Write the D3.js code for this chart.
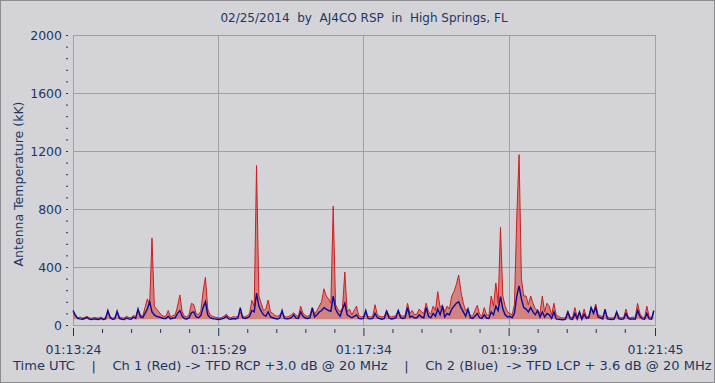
<!DOCTYPE html>
<html lang="en">
<head>
<meta charset="UTF-8">
<title>AJ4CO RSP 02/25/2014</title>
<script src="https://d3js.org/d3.v7.min.js"></script>
<style>
  html, body { margin: 0; padding: 0; background: #d4d4d8; }
  svg { display: block; }
  .txt { fill: #1c3664; font-family: "DejaVu Sans", sans-serif; }
  .tick line { stroke: #1c3664; }
</style>
</head>
<body>
<svg id="chart" width="715" height="383"></svg>
<script>
// time in seconds after 01:13:24 UTC, one sample every 2 s
const timeSec = d3.range(0, 501, 2);

// Ch 1 (red) antenna temperature, kK
const redVals = [
  85, 60, 50, 55, 48, 52, 60, 50, 46, 52,
  50, 47, 55, 45, 52, 95, 58, 48, 50, 90,
  55, 50, 48, 60, 52, 50, 65, 58, 105, 70,
  60, 120, 180, 140, 600, 130, 110, 90, 70, 60,
  60, 100, 55, 65, 70, 130, 207, 90, 60, 55,
  75, 150, 140, 80, 70, 95, 230, 330, 110, 70,
  60, 55, 50, 48, 52, 60, 75, 55, 50, 58,
  55, 60, 90, 60, 55, 65, 80, 170, 130, 1100,
  200, 150, 100, 110, 172, 90, 80, 65, 60, 70,
  85, 60, 55, 60, 70, 85, 65, 60, 130, 80,
  65, 60, 70, 120, 75, 100, 130, 160, 250, 200,
  180, 150, 820, 140, 110, 90, 120, 365, 90, 110,
  70, 100, 130, 65, 55, 60, 75, 60, 55, 60,
  140, 70, 60, 55, 60, 100, 65, 55, 60, 65,
  100, 65, 60, 70, 150, 80, 100, 70, 75, 110,
  90, 80, 150, 90, 75, 130, 100, 230, 120, 140,
  90, 130, 110, 200, 230, 280, 345, 230, 150, 100,
  110, 65, 60, 100, 135, 75, 60, 120, 70, 65,
  200, 130, 290, 150, 675, 200, 130, 90, 80, 70,
  140, 740, 1175, 320, 200, 200, 140, 200, 150, 110,
  100, 80, 200, 90, 150, 130, 70, 150, 65, 60,
  50, 48, 52, 95, 55, 50, 120, 55, 90, 50,
  110, 55, 60, 120, 90, 145, 70, 65, 55, 100,
  55, 50, 48, 52, 90, 55, 50, 52, 110, 55,
  50, 55, 52, 150, 80, 55, 50, 130, 55, 52, 85
];

// Ch 2 (blue) antenna temperature, kK
const blueVals = [
  100, 70, 45, 42, 40, 45, 52, 40, 38, 42,
  40, 38, 45, 38, 42, 100, 50, 40, 42, 95,
  45, 40, 38, 48, 42, 40, 55, 45, 110, 55,
  50, 80, 110, 160, 90, 70, 60, 55, 50, 45,
  45, 60, 42, 48, 50, 80, 100, 60, 45, 42,
  50, 85, 90, 55, 50, 65, 120, 160, 70, 50,
  45, 42, 40, 38, 42, 48, 60, 42, 40, 45,
  42, 48, 120, 50, 45, 50, 60, 100, 90, 220,
  130, 95, 70, 60, 90, 55, 50, 45, 42, 48,
  100, 45, 42, 45, 50, 70, 48, 45, 90, 60,
  48, 45, 50, 117, 55, 70, 90, 100, 120, 110,
  100, 95, 200, 110, 80, 60, 110, 150, 70, 60,
  50, 60, 70, 45, 42, 45, 100, 45, 42, 45,
  80, 50, 45, 40, 45, 95, 48, 42, 45, 50,
  100, 50, 45, 50, 120, 55, 60, 48, 50, 70,
  55, 50, 120, 60, 50, 80, 60, 110, 70, 130,
  55, 80, 70, 110, 130, 150, 160, 120, 90, 60,
  110, 50, 45, 60, 80, 50, 45, 70, 48, 45,
  90, 70, 130, 100, 195, 110, 70, 55, 60, 50,
  80, 200, 270, 180, 120, 110, 90, 120, 90, 70,
  100, 55, 90, 55, 80, 70, 45, 90, 42, 40,
  38, 36, 40, 90, 42, 38, 80, 42, 90, 40,
  75, 45, 50, 120, 80, 120, 55, 50, 42, 110,
  42, 40, 38, 42, 90, 42, 40, 42, 80, 45,
  40, 42, 40, 100, 60, 42, 40, 80, 42, 40, 100
];

const xTickSec = [0, 125, 250, 375, 501];
const xTickLabels = ["01:13:24", "01:15:29", "01:17:34", "01:19:39", "01:21:45"];
const yMajor = [0, 400, 800, 1200, 1600, 2000];

const svg = d3.select("#chart");
const W = 715, H = 383;
const pl = 73, pr = 655, pt = 35, pb = 325;

const x = d3.scaleLinear().domain([0, 501]).range([pl, pr]);
const y = d3.scaleLinear().domain([0, 2000]).range([pb, pt]);

// outer border
svg.append("rect").attr("x", 0.5).attr("y", 0.5).attr("width", W - 1).attr("height", H - 1)
  .attr("fill", "#d4d4d8").attr("stroke", "#8c8c90");

// grid
svg.append("g").selectAll("line").data(yMajor.slice(1, -1)).join("line")
  .attr("x1", pl).attr("x2", pr)
  .attr("y1", d => Math.round(y(d)) + 0.5).attr("y2", d => Math.round(y(d)) + 0.5)
  .attr("stroke", "#a0a0a4");
svg.append("g").selectAll("line").data(xTickSec.slice(1, -1)).join("line")
  .attr("x1", d => Math.round(x(d)) + 0.5).attr("x2", d => Math.round(x(d)) + 0.5)
  .attr("y1", pt).attr("y2", pb)
  .attr("stroke", "#a0a0a4");

// frame
svg.append("rect").attr("x", pl + 0.5).attr("y", pt + 0.5)
  .attr("width", pr - pl).attr("height", pb - pt)
  .attr("fill", "none").attr("stroke", "#a0a0a4");

// series: red gets a soft fill down to the noise floor, blue is a plain trace
const floor = 40;
const area = vals => d3.area()
  .x((d, i) => x(timeSec[i]))
  .y0(y(floor)).y1(d => y(d))(vals);
const line = vals => d3.line()
  .x((d, i) => x(timeSec[i]))
  .y(d => y(d))(vals);

svg.append("path").attr("d", area(redVals)).attr("fill", "#d04038").attr("opacity", 0.55);
svg.append("path").attr("d", line(redVals))
  .attr("fill", "none").attr("stroke", "#cc2020").attr("stroke-width", 1);
svg.append("path").attr("d", line(blueVals))
  .attr("fill", "none").attr("stroke", "#0a0a96").attr("stroke-width", 1.4);

// y axis: dash every 80, label every 400
const yAxis = d3.axisLeft(y)
  .tickValues(d3.range(0, 2001, 80))
  .tickSize(2).tickPadding(4)
  .tickFormat(d => d % 400 === 0 ? d : "");
const gy = svg.append("g").attr("transform", "translate(68,0)").call(yAxis);
gy.select(".domain").remove();
gy.selectAll("text").attr("font-size", 12.5)
  .attr("font-family", "DejaVu Sans, sans-serif").attr("fill", "#1c3664");

// x axis: minor ticks every 25 s, major at labels
const gxMinor = svg.append("g").attr("transform", `translate(0,${pb + 4})`)
  .call(d3.axisBottom(x).tickValues(d3.range(25, 501, 25).filter(d => d % 125 !== 0)).tickSize(4).tickFormat(""));
gxMinor.select(".domain").remove();
const gx = svg.append("g").attr("transform", `translate(0,${pb + 3})`)
  .call(d3.axisBottom(x).tickValues(xTickSec).tickSize(8).tickPadding(9)
    .tickFormat((d, i) => xTickLabels[i]));
gx.select(".domain").remove();
gx.selectAll("text").attr("font-size", 12.5)
  .attr("font-family", "DejaVu Sans, sans-serif").attr("fill", "#1c3664");

// title
svg.append("text").attr("class", "txt")
  .attr("x", 364).attr("y", 22).attr("text-anchor", "middle")
  .attr("font-family", "Liberation Sans, Arial, sans-serif").attr("font-size", 12)
  .style("white-space", "pre")
  .text("02/25/2014  by  AJ4CO RSP  in  High Springs, FL");

// y label
svg.append("text").attr("class", "txt")
  .attr("transform", `translate(23,${(pt + pb) / 2 + 4}) rotate(-90)`)
  .attr("text-anchor", "middle").attr("font-size", 12.5)
  .text("Antenna Temperature (kK)");

// bottom caption
svg.append("text").attr("class", "txt")
  .attr("x", 13).attr("y", 370)
  .attr("font-family", "Liberation Sans, Arial, sans-serif").attr("font-size", 13.05)
  .style("white-space", "pre")
  .text("Time UTC    |    Ch 1 (Red) -> TFD RCP +3.0 dB @ 20 MHz    |    Ch 2 (Blue)  -> TFD LCP + 3.6 dB @ 20 MHz");
</script>
</body>
</html>
